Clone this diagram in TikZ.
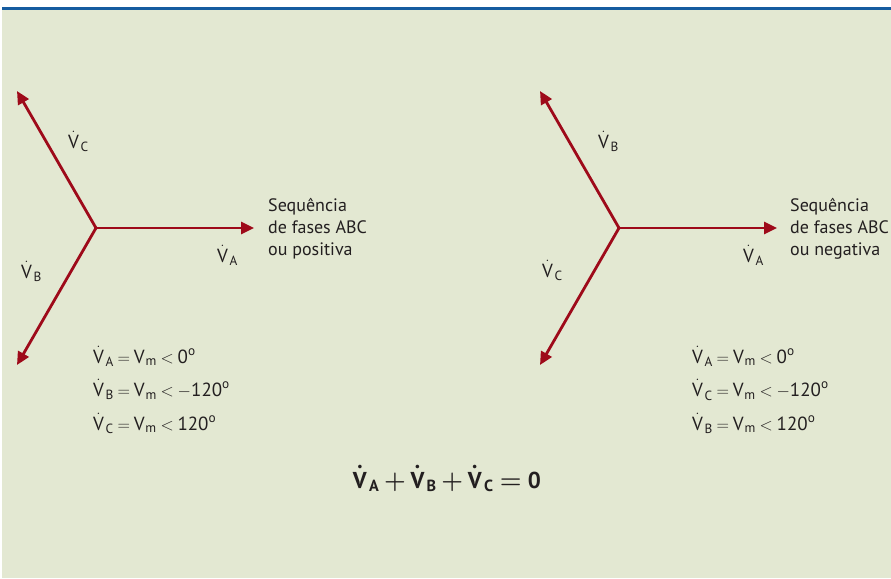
\documentclass[tikz,border=0pt]{standalone}
\usepackage{amsmath}
\usepackage{fontspec}
\setmainfont{PT Sans}
\usepackage{xcolor}
\usetikzlibrary{arrows.meta}
\definecolor{bgpanel}{RGB}{227,232,210}
\definecolor{rulebl}{RGB}{22,92,160}
\definecolor{phasred}{RGB}{158,10,26}
\definecolor{inkgray}{RGB}{35,31,32}
\newcommand{\Vd}[1]{\dot{\text{V}}_{\mkern2mu\text{#1}}}
\newcommand{\Vm}{\text{V}_{\mkern1mu\text{m}}}
\newcommand{\degs}{^{\text{o}}}
\medmuskip=3mu plus 1mu minus 1mu
\thickmuskip=4mu plus 1mu
\tikzset{every node/.append style={font=\fontsize{18}{22}\selectfont, text=inkgray, inner sep=0pt}}

\begin{document}
\begin{tikzpicture}[x=1pt, y=-1pt, >={Triangle[length=13pt,width=12pt]},
    phasor/.style={->, line width=2.8pt, phasred},
    vlabel/.style={anchor=base west, font=\fontsize{19}{22}\selectfont},
    eqs/.style={anchor=base west, align=left, font=\fontsize{19}{33.5}\selectfont}]
    \fill[white] (0,0) rectangle (891,578);
    \fill[bgpanel] (2,10) rectangle (891,578);
    \fill[rulebl] (2,7) rectangle (891,10.5);
    \useasboundingbox (0,0) rectangle (891,578);

    % sequencia positiva
    \coordinate (o-pos) at (96,228);
    \coordinate (a-pos) at (254,228);
    \coordinate (b-pos) at (17,365);
    \coordinate (c-pos) at (17,91);
    \draw[phasor] (o-pos) -- (a-pos);
    \draw[phasor] (o-pos) -- (b-pos);
    \draw[phasor] (o-pos) -- (c-pos);
    \node[vlabel] (va-pos) at (217,262) {$\Vd{A}$};
    \node[vlabel] (vb-pos) at (21,278) {$\Vd{B}$};
    \node[vlabel] (vc-pos) at (68,148) {$\Vd{C}$};
    \node[anchor=base west, align=left] (seq-pos) at (268,255) {Sequência\\de fases ABC\\ou positiva};
    \node[eqs] (eq-pos) at (93,430) {$\Vd{A} = \Vm < \text{0}\degs$\\
        $\Vd{B} = \Vm < -\text{120}\degs$\\
        $\Vd{C} = \Vm < \text{120}\degs$};

    % sequencia negativa
    \coordinate (o-neg) at (619,228);
    \coordinate (a-neg) at (777,228);
    \coordinate (b-neg) at (540,91);
    \coordinate (c-neg) at (540,365);
    \draw[phasor] (o-neg) -- (a-neg);
    \draw[phasor] (o-neg) -- (b-neg);
    \draw[phasor] (o-neg) -- (c-neg);
    \node[vlabel] (va-neg) at (743,262) {$\Vd{A}$};
    \node[vlabel] (vb-neg) at (598,148) {$\Vd{B}$};
    \node[vlabel] (vc-neg) at (542,277) {$\Vd{C}$};
    \node[anchor=base west, align=left] (seq-neg) at (790,255) {Sequência\\de fases ABC\\ou negativa};
    \node[eqs] (eq-neg) at (692,430) {$\Vd{A} = \Vm < \text{0}\degs$\\
        $\Vd{C} = \Vm < -\text{120}\degs$\\
        $\Vd{B} = \Vm < \text{120}\degs$};

    \node[anchor=base, font=\fontsize{23}{28}\selectfont\bfseries\boldmath] (sum) at (447,488)
        {$\Vd{A} + \Vd{B} + \Vd{C} = \text{0}$};
\end{tikzpicture}
\end{document}
